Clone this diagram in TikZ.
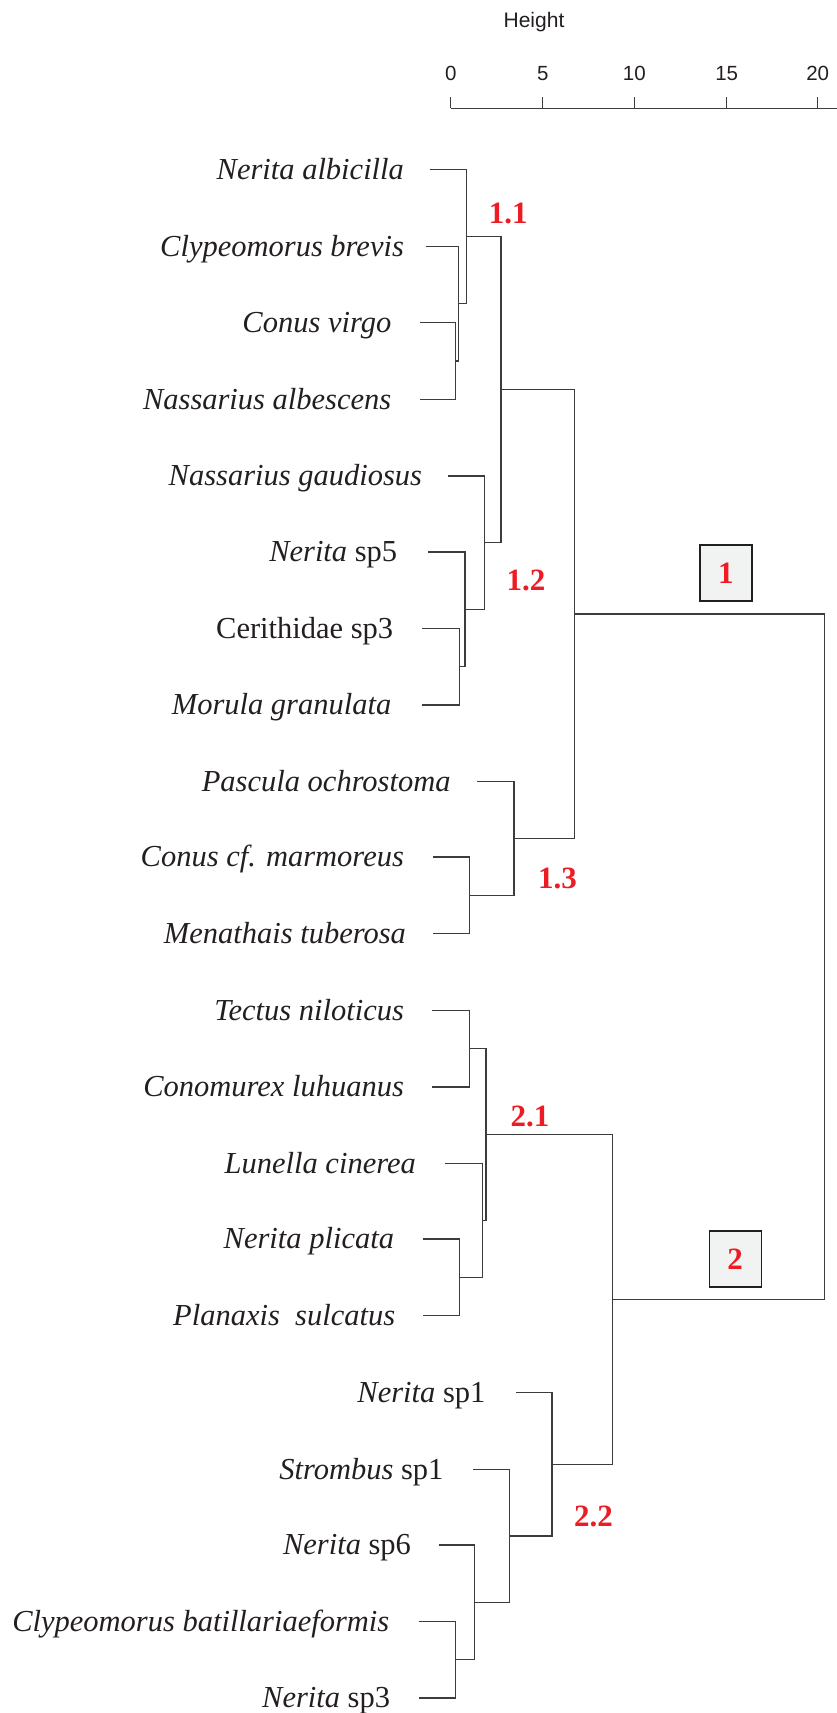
\documentclass[tikz,border=0pt]{standalone}
\usepackage{fontspec}
\setmainfont{Liberation Serif}
\newfontfamily\axisfont{Liberation Sans}
\definecolor{ink}{HTML}{231F20}
\definecolor{treeline}{HTML}{3C3C3C}
\definecolor{clred}{HTML}{ED1C24}
\definecolor{boxfill}{HTML}{F1F2F2}
\begin{document}
\begin{tikzpicture}[x=1pt,y=-1pt,
  leaf/.style={anchor=base east,inner sep=0pt,text=ink,font=\fontsize{30.5}{34}\selectfont},
  edge/.style={draw=treeline,line width=1.1pt},
  clabel/.style={text=clred,inner sep=0pt,font=\fontsize{31}{34}\selectfont\bfseries},
  groupbox/.style={draw=ink,line width=1.4pt,fill=boxfill,minimum width=52pt,minimum height=56pt,inner sep=0pt,text=clred,font=\fontsize{31}{34}\selectfont\bfseries},
  ticklab/.style={text=ink,inner sep=0pt,font=\axisfont\fontsize{20.5}{24}\selectfont}
]
\useasboundingbox (0,0) rectangle (837,1713);

% ---------- axis ----------
\node[text=ink,inner sep=0pt,font=\axisfont\fontsize{21}{24}\selectfont] (htitle) at (534,22.5) {Height};
\coordinate (ax0) at (450.7,108.3);
\coordinate (axend) at (837,108.3);
\draw[edge] (ax0) -- (axend);
\foreach \v/\xx in {0/450.7,5/542.7,10/634.3,15/726.7,20/817.7}{
  \coordinate (t\v) at (\xx,108.3);
  \draw[edge] (t\v) -- ++(0,-11.6);
  \node[ticklab] (tl\v) at (\xx,73.5) {\v};
}

% ---------- leaves (line start coordinates) ----------
\coordinate (l1) at (430.2,169.3);
\coordinate (l2) at (426.3,246.3);
\coordinate (l3) at (420,322.7);
\coordinate (l4) at (420,399.3);
\coordinate (l5) at (447.6,476);
\coordinate (l6) at (428.2,552);
\coordinate (l7) at (422.3,628.3);
\coordinate (l8) at (422.3,705);
\coordinate (l9) at (477.3,781.7);
\coordinate (l10) at (433.4,857);
\coordinate (l11) at (433.4,933.3);
\coordinate (l12) at (432.2,1010.7);
\coordinate (l13) at (432.2,1087);
\coordinate (l14) at (445.2,1163.7);
\coordinate (l15) at (422.7,1239);
\coordinate (l16) at (422.7,1315.7);
\coordinate (l17) at (516,1392.3);
\coordinate (l18) at (473.3,1469.7);
\coordinate (l19) at (438.9,1545);
\coordinate (l20) at (418.7,1621.7);
\coordinate (l21) at (418.7,1698);

% ---------- leaf labels ----------
\node[leaf] (n1) at (404.1,179.2) {\itshape Nerita albicilla};
\node[leaf] (n2) at (404.1,256.2) {\itshape Clypeomorus brevis};
\node[leaf] (n3) at (391.5,332.6) {\itshape Conus virgo};
\node[leaf] (n4) at (391.5,409.2) {\itshape Nassarius albescens};
\node[leaf] (n5) at (422.3,485.9) {\itshape Nassarius gaudiosus};
\node[leaf] (n6) at (397.4,561.9) {\textit{Nerita} sp5};
\node[leaf] (n7) at (393.4,638.2) {Cerithidae sp3};
\node[leaf] (n8) at (391.5,714.9) {\itshape Morula granulata};
\node[leaf] (n9) at (450.8,791.6) {\itshape Pascula ochrostoma};
\node[leaf] (n10) at (404.1,866.9) {\itshape Conus cf. marmoreus};
\node[leaf] (n11) at (406.1,943.2) {\itshape Menathais tuberosa};
\node[leaf] (n12) at (404.1,1020.6) {\itshape Tectus niloticus};
\node[leaf] (n13) at (404.1,1096.9) {\itshape Conomurex luhuanus};
\node[leaf] (n14) at (416,1173.6) {\itshape Lunella cinerea};
\node[leaf] (n15) at (394.2,1248.9) {\itshape Nerita plicata};
\node[leaf] (n16) at (395.4,1325.6) {\itshape Planaxis~~sulcatus};
\node[leaf] (n17) at (485.6,1402.2) {\textit{Nerita} sp1};
\node[leaf] (n18) at (443.7,1479.6) {\textit{Strombus} sp1};
\node[leaf] (n19) at (411.2,1554.9) {\textit{Nerita} sp6};
\node[leaf] (n20) at (389.5,1631.6) {\itshape Clypeomorus batillariaeformis};
\node[leaf] (n21) at (390.3,1707.9) {\textit{Nerita} sp3};

% ---------- merge points ----------
\coordinate (m34) at (455.9,361);
\coordinate (m234) at (458.7,303.65);
\coordinate (m1234) at (466.6,236.5);
\coordinate (m78) at (459.9,666.65);
\coordinate (m678) at (465,609.3);
\coordinate (m5678) at (484.8,542.7);
\coordinate (m1112) at (501,389.6);
\coordinate (m1011) at (469.4,895.15);
\coordinate (m911) at (514,838.4);
\coordinate (mC1) at (574.5,614);
\coordinate (m1213) at (469.4,1048.85);
\coordinate (m1516) at (459.9,1277.35);
\coordinate (m1416) at (482.4,1220.5);
\coordinate (m21) at (486,1134.7);
\coordinate (m2021) at (455.9,1659.85);
\coordinate (m1921) at (474.1,1602.4);
\coordinate (m1821) at (509.7,1536);
\coordinate (m22) at (552,1464.2);
\coordinate (mC2) at (612.9,1299.45);
\coordinate (root) at (824.3,956.7);

% ---------- dendrogram ----------
\draw[edge] (l3) -| (m34) |- (l4);
\draw[edge] (l2) -| (m234) |- (m34);
\draw[edge] (l1) -| (m1234) |- (m234);
\draw[edge] (l7) -| (m78) |- (l8);
\draw[edge] (l6) -| (m678) |- (m78);
\draw[edge] (l5) -| (m5678) |- (m678);
\draw[edge] (m1234) -| (m1112) |- (m5678);
\draw[edge] (l10) -| (m1011) |- (l11);
\draw[edge] (l9) -| (m911) |- (m1011);
\draw[edge] (m1112) -| (mC1) |- (m911);
\draw[edge] (l12) -| (m1213) |- (l13);
\draw[edge] (l15) -| (m1516) |- (l16);
\draw[edge] (l14) -| (m1416) |- (m1516);
\draw[edge] (m1213) -| (m21) |- (m1416);
\draw[edge] (l20) -| (m2021) |- (l21);
\draw[edge] (l19) -| (m1921) |- (m2021);
\draw[edge] (l18) -| (m1821) |- (m1921);
\draw[edge] (l17) -| (m22) |- (m1821);
\draw[edge] (m21) -| (mC2) |- (m22);
\draw[edge] (mC1) -| (root) |- (mC2);

% ---------- cluster labels ----------
\node[clabel] (c11) at (508.2,213.3) {1.1};
\node[clabel] (c12) at (525.9,580.7) {1.2};
\node[clabel] (c13) at (557.5,878.3) {1.3};
\node[clabel] (c21) at (529.9,1116) {2.1};
\node[clabel] (c22) at (593.6,1516.7) {2.2};
\node[groupbox] (g1) at (725.8,573) {1};
\node[groupbox] (g2) at (735.2,1258.8) {2};
\end{tikzpicture}
\end{document}
